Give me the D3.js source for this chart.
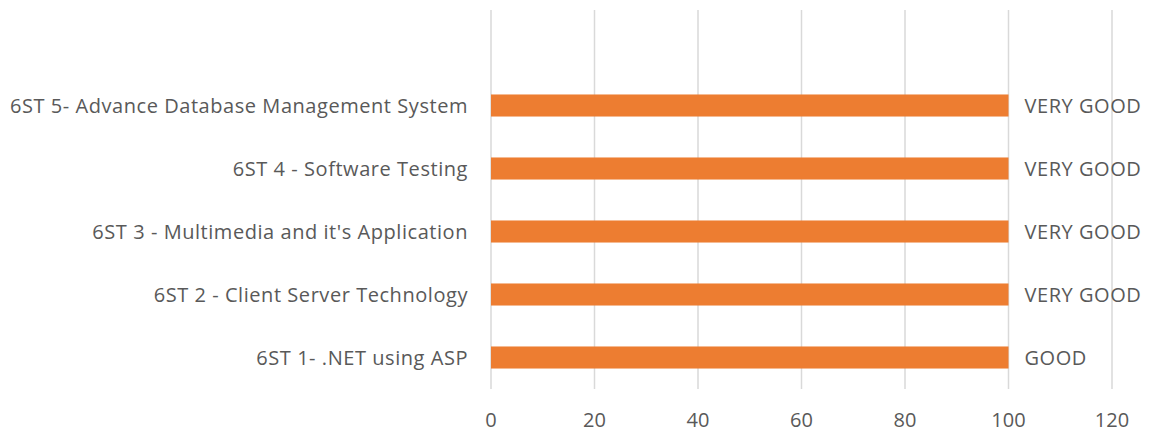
<!DOCTYPE html>
<html>
<head>
<meta charset="utf-8">
<script src="https://cdn.jsdelivr.net/npm/d3@7"></script>
<style>
  body { margin: 0; background: #fff; }
  text { font-family: "Open Sans", "DejaVu Sans", sans-serif; fill: #595959; font-size: 20px; letter-spacing: 0.55px; }
</style>
</head>
<body>
<svg id="chart"></svg>
<script>
// bar chart data (bottom to top as drawn)
const subjects = [
    "6ST 1- .NET using ASP",
    "6ST 2 - Client Server Technology",
    "6ST 3 - Multimedia and it's Application",
    "6ST 4 - Software Testing",
    "6ST 5- Advance Database Management System"
];
const scores = [100, 100, 100, 100, 100];
const grades = ["GOOD", "VERY GOOD", "VERY GOOD", "VERY GOOD", "VERY GOOD"];
const xTicks = [0, 20, 40, 60, 80, 100, 120];

const width = 1157, height = 448;
const svg = d3.select("#chart").attr("width", width).attr("height", height);

const plotLeft = 491, plotRight = 1112;
const plotTop = 10, plotBottom = 389;
const step = 63;

const xScale = d3.scaleLinear().domain([0, 120]).range([plotLeft, plotRight]);

// 5 categories fill the lower part, an empty band stays on top
const yScale = d3.scaleBand()
    .domain(subjects)
    .range([plotBottom, plotBottom - step * subjects.length])
    .paddingInner(0.65)
    .paddingOuter(0.325);

// vertical gridlines
svg.append("g")
    .selectAll("line")
    .data(xTicks)
    .join("line")
    .attr("x1", d => xScale(d))
    .attr("x2", d => xScale(d))
    .attr("y1", plotTop)
    .attr("y2", plotBottom)
    .attr("stroke", "#d9d9d9")
    .attr("stroke-width", 1.5);

// x axis labels
svg.append("g")
    .selectAll("text")
    .data(xTicks)
    .join("text")
    .attr("x", d => xScale(d))
    .attr("y", 420)
    .attr("dy", "0.35em")
    .attr("text-anchor", "middle")
    .style("letter-spacing", "0px")
    .text(d => d);

// bars
svg.append("g")
    .selectAll("rect")
    .data(subjects)
    .join("rect")
    .attr("x", xScale(0))
    .attr("y", d => yScale(d))
    .attr("width", (d, i) => xScale(scores[i]) - xScale(0))
    .attr("height", yScale.bandwidth())
    .attr("fill", "#ED7D31");

// category labels
svg.append("g")
    .selectAll("text")
    .data(subjects)
    .join("text")
    .attr("x", plotLeft - 23)
    .attr("y", d => yScale(d) + yScale.bandwidth() / 2)
    .attr("dy", "0.35em")
    .attr("text-anchor", "end")
    .text(d => d);

// grade labels at bar ends
svg.append("g")
    .selectAll("text")
    .data(subjects)
    .join("text")
    .attr("x", (d, i) => xScale(scores[i]) + 16)
    .attr("y", d => yScale(d) + yScale.bandwidth() / 2)
    .attr("dy", "0.35em")
    .attr("text-anchor", "start")
    .text((d, i) => grades[i]);
</script>
</body>
</html>
